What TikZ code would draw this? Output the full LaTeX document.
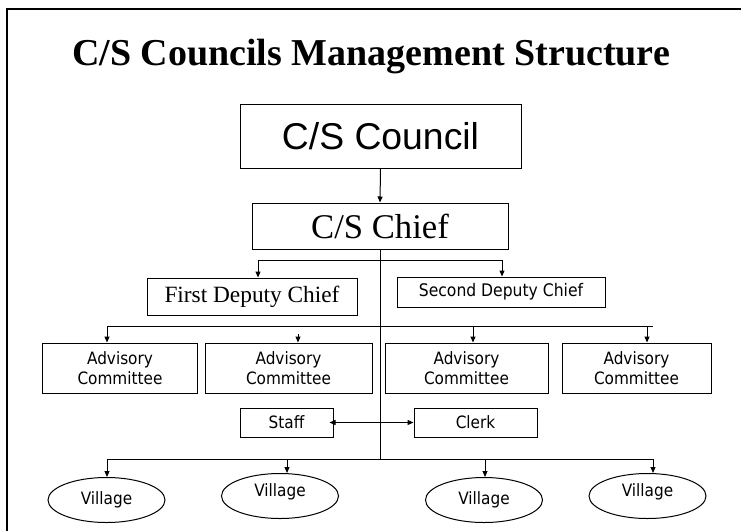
\documentclass[tikz,border=0pt]{standalone}
\usepackage{fontspec}
\setmainfont{Liberation Serif}
\newfontfamily\arialfont{Liberation Sans}
\newfontfamily\tahomafont{DejaVu Sans Condensed}
\usetikzlibrary{arrows.meta,shapes.geometric}

\begin{document}
\begin{tikzpicture}[x=0.75pt,y=0.75pt,yscale=-1,xscale=1,
  box/.style={draw,line width=0.75pt,inner sep=0pt,align=center},
  smalltxt/.style={font=\tahomafont\fontsize{12.75}{15}\selectfont},
  village/.style={ellipse,draw,line width=0.75pt,minimum width=87.75pt,minimum height=33.75pt,inner sep=0pt,smalltxt},
  link/.style={line width=0.75pt},
  arr/.style={line width=0.75pt,-{Triangle[length=4.5pt,width=3.75pt]}}]
\useasboundingbox (0,0) rectangle (741,531);

%Straight Lines (slide frame)
\draw [line width=1.6pt] (7,531) -- (7,9) -- (741,9);

% Text Node
\node [anchor=base] (title) at (371,66) {\fontsize{28.5}{34}\selectfont\bfseries C/S Councils Management Structure};

%Shape: Rectangle
\node [box,minimum width=210.75pt,minimum height=47.25pt,font=\arialfont\fontsize{28}{32}\selectfont] (council) at (380.5,136.5) {C/S Council};
\node [box,minimum width=192pt,minimum height=34.5pt,font=\fontsize{26}{30}\selectfont] (chief) at (380,226) {C/S Chief};
\node [box,minimum width=157.5pt,minimum height=27.75pt,font=\fontsize{17.5}{20}\selectfont] (first) at (252,296.5) {First Deputy Chief};
\node [box,minimum width=156pt,minimum height=22.5pt,font=\tahomafont\fontsize{13}{15}\selectfont] (second) at (501,292) {Second Deputy Chief};

\node [box,smalltxt,minimum width=116.25pt,minimum height=37.5pt] (adv1) at (120,368) {Advisory\\Committee};
\node [box,smalltxt,minimum width=125.25pt,minimum height=37.5pt] (adv2) at (288.5,368) {Advisory\\Committee};
\node [box,smalltxt,minimum width=122.25pt,minimum height=37.5pt] (adv3) at (466.5,368) {Advisory\\Committee};
\node [box,smalltxt,minimum width=111.75pt,minimum height=37.5pt] (adv4) at (636.5,368) {Advisory\\Committee};

\node [box,smalltxt,minimum width=69.75pt,minimum height=21.75pt] (staff) at (286.5,422.5) {Staff};
\node [box,smalltxt,minimum width=92.25pt,minimum height=21.75pt] (clerk) at (475.5,422.5) {Clerk};

%Shape: Ellipse
\node [village] (vil1) at (106.5,500) {Village};
\node [village] (vil2) at (280,496) {\raisebox{3pt}[\height][\depth]{Village}};
\node [village] (vil3) at (484,500) {Village};
\node [village] (vil4) at (647.5,496) {\raisebox{3pt}[\height][\depth]{Village}};

%Straight Lines
\coordinate (vbus) at (380,459);
\draw [arr] (council.south) -- (chief.north);
\draw [link] (chief.south) -- (vbus);

\coordinate (dl) at (258,260);
\coordinate (dr) at (502,260);
\draw [link] (dl) -- (dr);
\draw [arr] (dl) -- (dl |- first.north);
\draw [arr] (dr) -- (dr |- second.north);

\coordinate (al) at (107,326);
\coordinate (ar) at (653,326);
\coordinate (a2) at (298,334);
\coordinate (a3) at (473,326);
\coordinate (a4) at (647,326);
\draw [link] (al) -- (ar);
\draw [arr] (al) -- (al |- adv1.north);
\draw [arr] (a2) -- (a2 |- adv2.north);
\draw [arr] (a3) -- (a3 |- adv3.north);
\draw [arr] (a4) -- (a4 |- adv4.north);

\draw [line width=0.75pt,{Triangle[length=4.5pt,width=3.75pt]}-{Triangle[length=4.5pt,width=3.75pt]}] ([xshift=-3pt]staff.east) -- (clerk.west);

\coordinate (vl) at (107,459);
\coordinate (vr) at (653,459);
\coordinate (v2) at (287,459);
\coordinate (v3) at (485,459);
\draw [link] (vl) -- (vr);
\draw [arr] (vl) -- (vl |- vil1.north);
\draw [arr] (v2) -- (v2 |- vil2.north);
\draw [arr] (v3) -- (v3 |- vil3.north);
\draw [arr] (vr) -- (vr |- vil4.north);

\end{tikzpicture}
\end{document}
